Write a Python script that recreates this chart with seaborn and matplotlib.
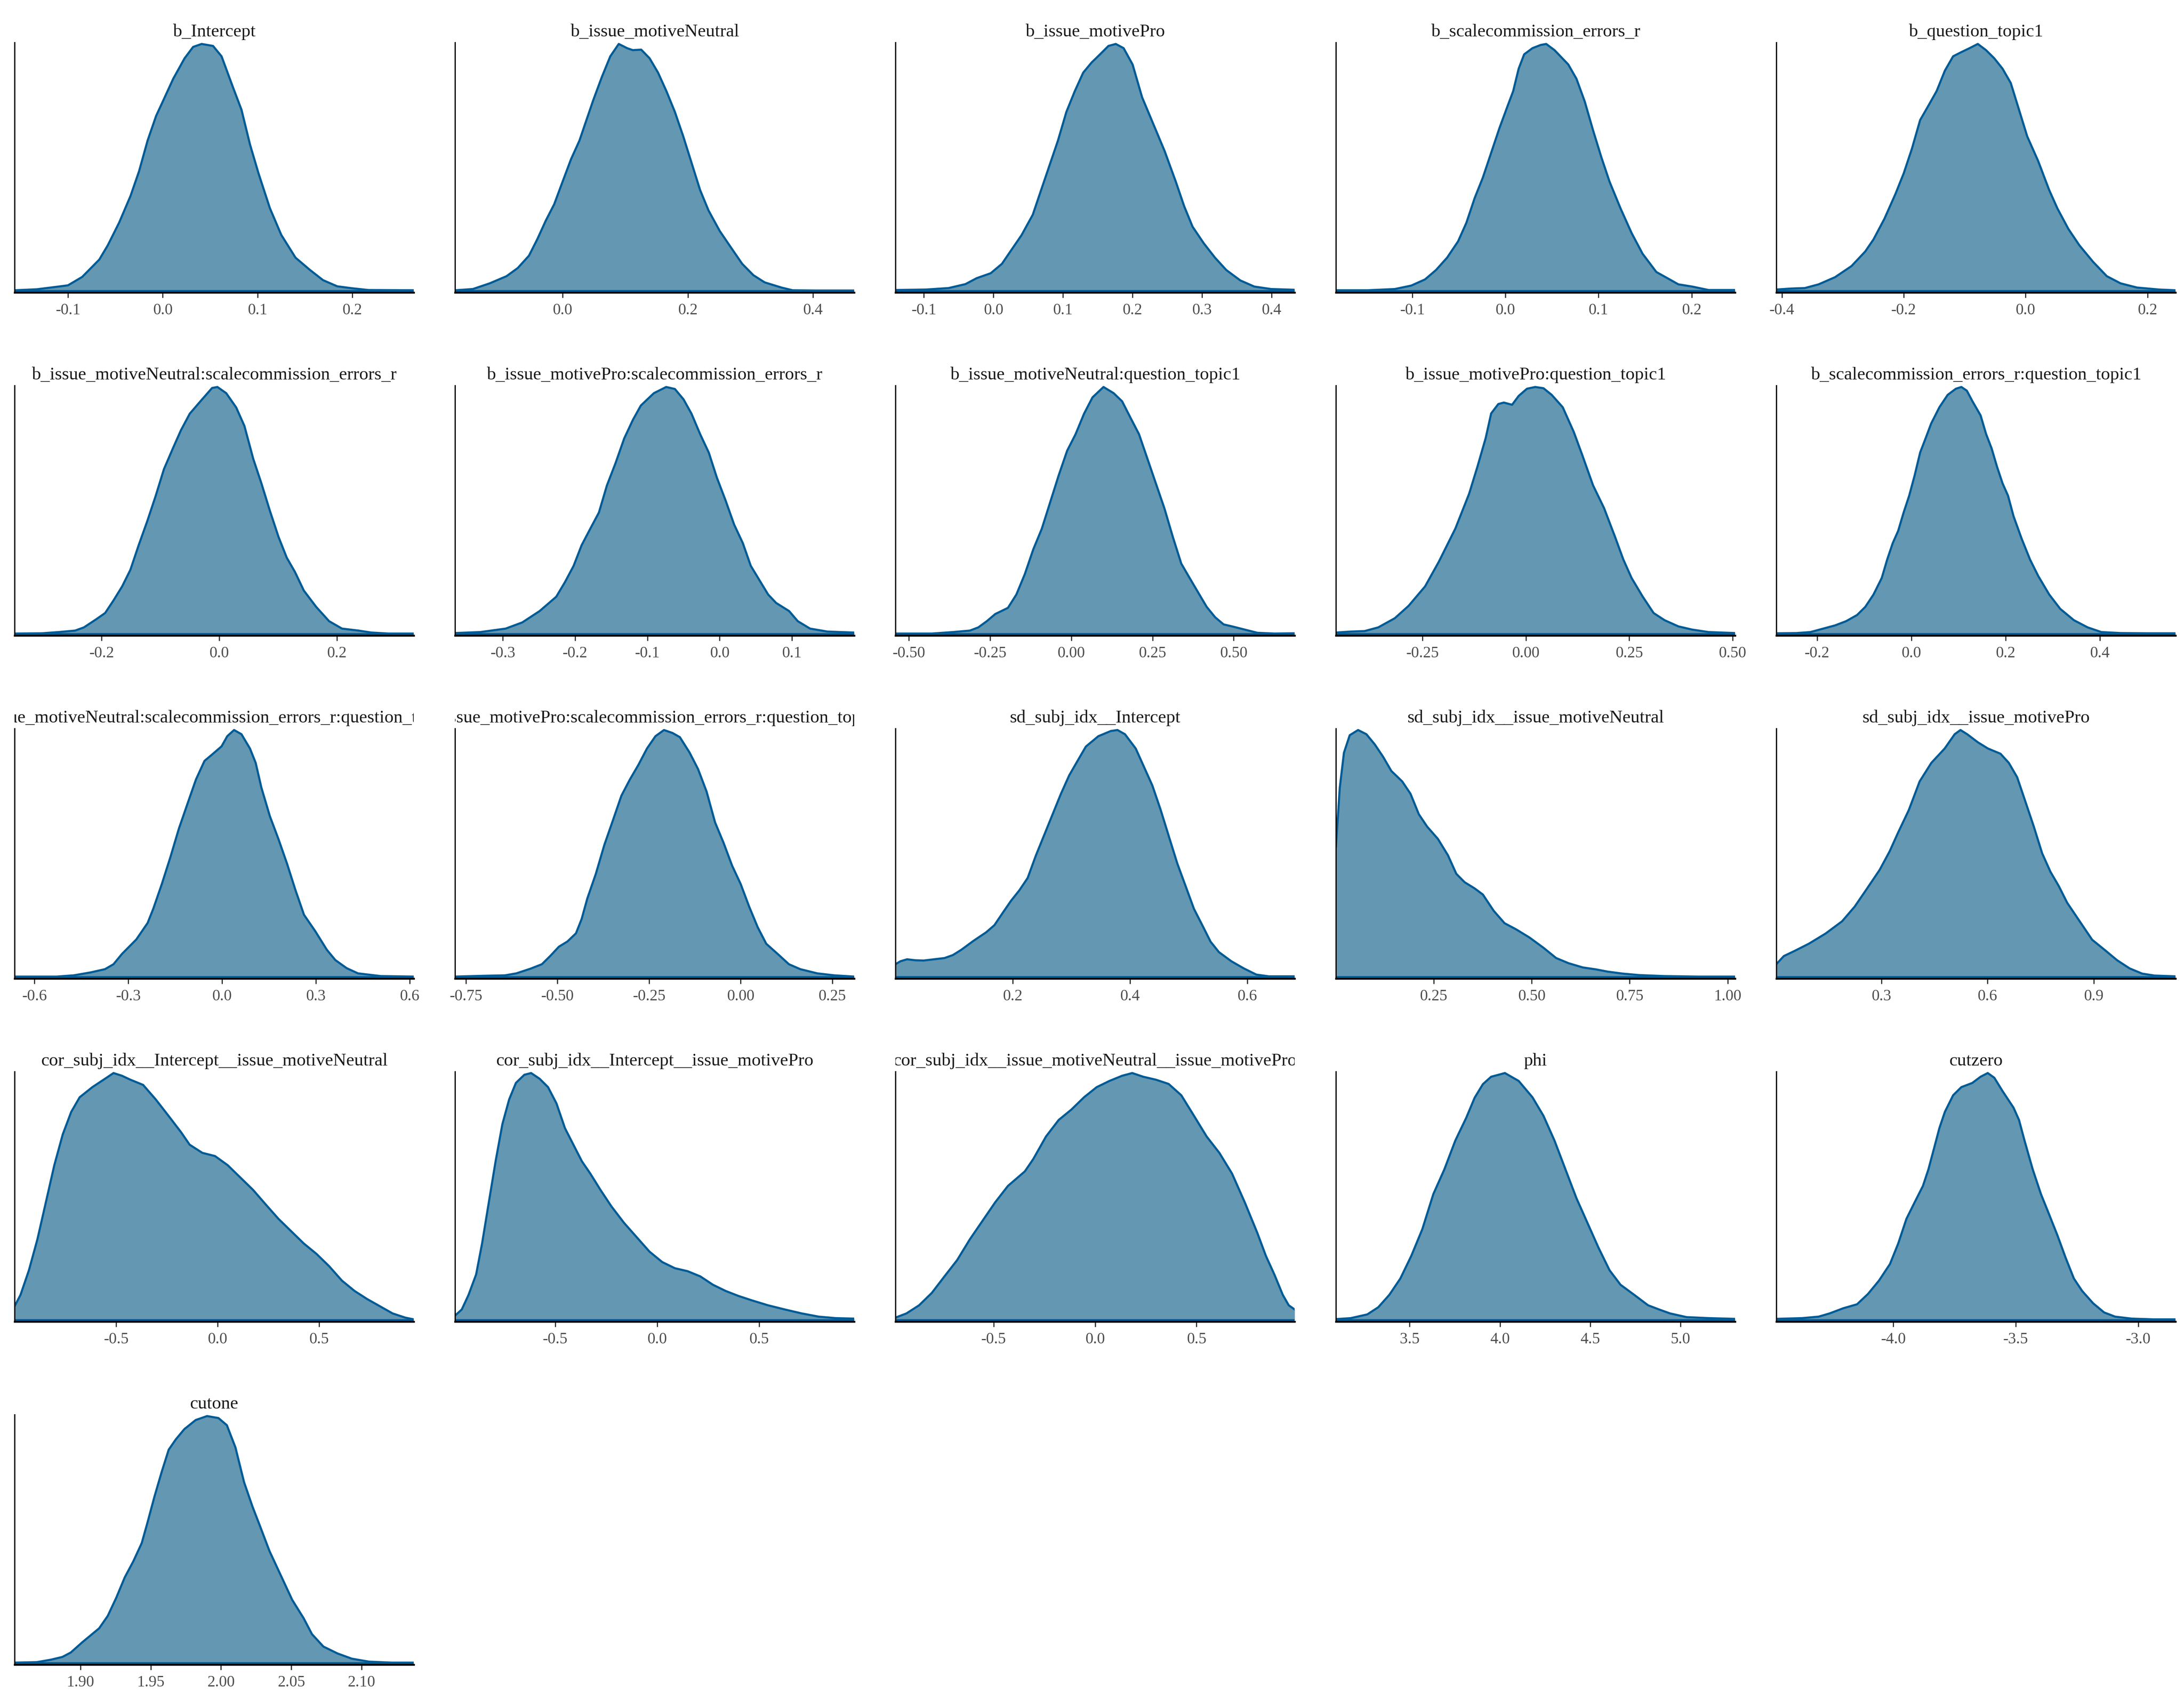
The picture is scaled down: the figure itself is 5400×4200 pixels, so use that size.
import numpy as np
import pandas as pd
import matplotlib
matplotlib.use("Agg")
import matplotlib.pyplot as plt
import seaborn as sns
from matplotlib.transforms import Bbox, TransformedBbox

# ---------------- data ----------------
# density curves: x positions and relative heights (peak = 1)
b_intercept_x = [-0.1563, -0.1329, -0.112, -0.1, -0.085, -0.067, -0.058, -0.046, -0.034, -0.025, -0.016, -0.007, 0.0, 0.011, 0.023, 0.032, 0.041, 0.053, 0.062, 0.074, 0.083, 0.092, 0.101, 0.113, 0.125, 0.140, 0.155, 0.169, 0.184, 0.2, 0.217, 0.2647]
b_intercept_y = [0.003, 0.007, 0.017, 0.023, 0.057, 0.127, 0.185, 0.277, 0.385, 0.485, 0.609, 0.709, 0.767, 0.859, 0.942, 0.988, 1.0, 0.992, 0.95, 0.825, 0.734, 0.593, 0.476, 0.335, 0.227, 0.135, 0.086, 0.044, 0.019, 0.011, 0.004, 0.003]

neutral_x = [-0.172, -0.1435, -0.1166, -0.0897, -0.0717, -0.0538, -0.0404, -0.0269, -0.0135, 0.0, 0.0135, 0.0269, 0.0359, 0.0493, 0.0628, 0.0762, 0.0897, 0.1031, 0.1121, 0.1256, 0.139, 0.1525, 0.1659, 0.1794, 0.1928, 0.2063, 0.2197, 0.2332, 0.2511, 0.2691, 0.287, 0.3049, 0.3229, 0.3498, 0.3677, 0.4036, 0.466]
neutral_y = [0.003, 0.008, 0.031, 0.06, 0.093, 0.143, 0.21, 0.285, 0.351, 0.443, 0.534, 0.609, 0.676, 0.775, 0.867, 0.95, 1.0, 0.983, 0.975, 0.977, 0.942, 0.884, 0.809, 0.725, 0.626, 0.517, 0.409, 0.326, 0.243, 0.176, 0.11, 0.064, 0.035, 0.014, 0.003, 0.002, 0.002]

pro_x = [-0.141, -0.0968, -0.0645, -0.0403, -0.0242, -0.004, 0.0121, 0.0242, 0.0403, 0.0565, 0.0685, 0.0806, 0.0927, 0.1048, 0.1169, 0.129, 0.1411, 0.1532, 0.1653, 0.1758, 0.1871, 0.2, 0.2137, 0.2298, 0.246, 0.2621, 0.2742, 0.2863, 0.3024, 0.3185, 0.3347, 0.3548, 0.375, 0.3992, 0.433]
pro_y = [0.004, 0.006, 0.012, 0.028, 0.052, 0.072, 0.11, 0.16, 0.226, 0.309, 0.409, 0.509, 0.609, 0.725, 0.809, 0.884, 0.925, 0.958, 0.992, 1.0, 0.983, 0.917, 0.784, 0.676, 0.567, 0.443, 0.343, 0.26, 0.193, 0.135, 0.085, 0.043, 0.018, 0.008, 0.005]

scale_x = [-0.1822, -0.1485, -0.1189, -0.1012, -0.0864, -0.0746, -0.0627, -0.0509, -0.042, -0.0331, -0.0243, -0.0154, -0.0065, 0.0024, 0.0083, 0.0142, 0.0201, 0.029, 0.0379, 0.0438, 0.0527, 0.0675, 0.0763, 0.0852, 0.0941, 0.103, 0.1118, 0.1237, 0.1355, 0.1473, 0.1621, 0.174, 0.1858, 0.2006, 0.2183, 0.2467]
scale_y = [0.003, 0.003, 0.008, 0.022, 0.047, 0.085, 0.135, 0.201, 0.276, 0.376, 0.459, 0.559, 0.659, 0.75, 0.809, 0.9, 0.958, 0.983, 0.996, 1.0, 0.975, 0.917, 0.859, 0.767, 0.651, 0.542, 0.443, 0.334, 0.235, 0.151, 0.077, 0.052, 0.027, 0.018, 0.004, 0.004]

topic_x = [-0.409, -0.3847, -0.3622, -0.3396, -0.3126, -0.2856, -0.2631, -0.2495, -0.2315, -0.2135, -0.2, -0.1865, -0.173, -0.1595, -0.146, -0.1324, -0.1189, -0.1054, -0.0919, -0.0784, -0.0649, -0.0514, -0.0378, -0.0243, -0.0108, 0.0027, 0.0207, 0.0387, 0.0523, 0.0703, 0.0883, 0.1108, 0.1333, 0.1559, 0.1829, 0.2189, 0.246]
topic_y = [0.006, 0.01, 0.012, 0.027, 0.056, 0.101, 0.16, 0.209, 0.293, 0.393, 0.476, 0.576, 0.692, 0.75, 0.809, 0.892, 0.95, 0.967, 0.983, 1.0, 0.975, 0.942, 0.9, 0.842, 0.734, 0.626, 0.526, 0.409, 0.334, 0.251, 0.185, 0.118, 0.06, 0.031, 0.014, 0.006, 0.003]

neutral_scale_x = [-0.348, -0.302, -0.273, -0.245, -0.23, -0.209, -0.194, -0.18, -0.165, -0.151, -0.137, -0.122, -0.108, -0.094, -0.079, -0.065, -0.05, -0.029, -0.012, -0.003, 0.012, 0.029, 0.043, 0.058, 0.072, 0.086, 0.101, 0.115, 0.129, 0.144, 0.165, 0.187, 0.209, 0.237, 0.259, 0.288, 0.331]
neutral_scale_y = [0.002, 0.003, 0.008, 0.014, 0.027, 0.06, 0.085, 0.135, 0.193, 0.26, 0.359, 0.459, 0.559, 0.667, 0.75, 0.825, 0.892, 0.95, 0.996, 1.0, 0.975, 0.917, 0.842, 0.709, 0.609, 0.501, 0.393, 0.309, 0.251, 0.176, 0.11, 0.052, 0.022, 0.014, 0.006, 0.002, 0.002]

pro_scale_x = [-0.366, -0.331, -0.296, -0.273, -0.249, -0.226, -0.214, -0.202, -0.191, -0.179, -0.167, -0.156, -0.144, -0.132, -0.12, -0.109, -0.091, -0.074, -0.062, -0.05, -0.039, -0.027, -0.015, -0.004, 0.008, 0.02, 0.032, 0.043, 0.055, 0.067, 0.078, 0.096, 0.108, 0.125, 0.149, 0.186]
pro_scale_y = [0.004, 0.008, 0.022, 0.047, 0.093, 0.151, 0.21, 0.276, 0.359, 0.426, 0.492, 0.601, 0.692, 0.792, 0.867, 0.925, 0.975, 1.0, 0.992, 0.95, 0.892, 0.809, 0.734, 0.634, 0.542, 0.443, 0.368, 0.276, 0.218, 0.16, 0.126, 0.093, 0.052, 0.022, 0.01, 0.006]

neutral_topic_x = [-0.5417, -0.4297, -0.3646, -0.3125, -0.2865, -0.2604, -0.2344, -0.1953, -0.1693, -0.1432, -0.1172, -0.0911, -0.0651, -0.0391, -0.013, 0.013, 0.0391, 0.0651, 0.099, 0.1302, 0.1563, 0.1823, 0.2083, 0.2344, 0.2604, 0.2865, 0.3125, 0.3385, 0.3646, 0.3906, 0.4167, 0.4427, 0.4688, 0.4948, 0.5339, 0.5729, 0.625, 0.6875]
neutral_topic_y = [0.002, 0.002, 0.008, 0.014, 0.027, 0.052, 0.081, 0.106, 0.16, 0.243, 0.343, 0.426, 0.534, 0.642, 0.742, 0.809, 0.892, 0.958, 1.0, 0.975, 0.942, 0.875, 0.809, 0.709, 0.609, 0.509, 0.393, 0.285, 0.226, 0.168, 0.11, 0.068, 0.039, 0.031, 0.018, 0.005, 0.002, 0.003]

pro_topic_x = [-0.4595, -0.4236, -0.3902, -0.357, -0.317, -0.2837, -0.2437, -0.2104, -0.1705, -0.1372, -0.1172, -0.0972, -0.0839, -0.0666, -0.0533, -0.0333, -0.0173, 0.0027, 0.0226, 0.0426, 0.0626, 0.0892, 0.1159, 0.1359, 0.1625, 0.1891, 0.2158, 0.2357, 0.2557, 0.2824, 0.309, 0.3356, 0.3689, 0.4022, 0.4422, 0.506]
pro_topic_y = [0.006, 0.01, 0.012, 0.027, 0.064, 0.114, 0.193, 0.293, 0.427, 0.568, 0.677, 0.793, 0.893, 0.931, 0.937, 0.928, 0.964, 0.993, 1.0, 0.995, 0.968, 0.918, 0.818, 0.727, 0.602, 0.51, 0.393, 0.302, 0.227, 0.152, 0.085, 0.056, 0.031, 0.018, 0.008, 0.004]

scale_topic_x = [-0.2866, -0.2434, -0.2143, -0.191, -0.1619, -0.1386, -0.1153, -0.0978, -0.0804, -0.0629, -0.0513, -0.0396, -0.028, -0.0163, -0.0047, 0.007, 0.0186, 0.0303, 0.0419, 0.0594, 0.0769, 0.0944, 0.106, 0.1176, 0.1293, 0.1468, 0.1584, 0.1701, 0.1817, 0.1934, 0.205, 0.2167, 0.2341, 0.2516, 0.2691, 0.2924, 0.3157, 0.3448, 0.3739, 0.403, 0.4438, 0.502, 0.5603]
scale_topic_y = [0.003, 0.004, 0.008, 0.02, 0.035, 0.052, 0.077, 0.11, 0.16, 0.227, 0.302, 0.368, 0.418, 0.493, 0.56, 0.643, 0.735, 0.793, 0.852, 0.918, 0.968, 0.993, 1.0, 0.985, 0.943, 0.885, 0.81, 0.752, 0.677, 0.61, 0.56, 0.477, 0.385, 0.302, 0.235, 0.16, 0.102, 0.056, 0.027, 0.008, 0.004, 0.003, 0.003]

neutral_scale_topic_x = [-0.6636, -0.5291, -0.4745, -0.42, -0.3745, -0.3473, -0.32, -0.2745, -0.2382, -0.22, -0.1927, -0.1655, -0.1382, -0.1109, -0.0836, -0.0564, -0.0291, -0.0018, 0.0164, 0.0382, 0.0618, 0.0891, 0.1073, 0.1255, 0.1527, 0.18, 0.2073, 0.2345, 0.2618, 0.2982, 0.3345, 0.3618, 0.3982, 0.4345, 0.5073, 0.6127]
neutral_scale_topic_y = [0.002, 0.002, 0.007, 0.019, 0.032, 0.052, 0.094, 0.152, 0.219, 0.277, 0.377, 0.485, 0.601, 0.701, 0.8, 0.875, 0.904, 0.934, 0.975, 1.0, 0.983, 0.925, 0.867, 0.767, 0.651, 0.559, 0.46, 0.352, 0.252, 0.185, 0.111, 0.069, 0.036, 0.015, 0.004, 0.002]

pro_scale_topic_x = [-0.7798, -0.7054, -0.6434, -0.6124, -0.5736, -0.5426, -0.5194, -0.4961, -0.4729, -0.4496, -0.4341, -0.4186, -0.3953, -0.3721, -0.3488, -0.3256, -0.3023, -0.2791, -0.2558, -0.2326, -0.2093, -0.186, -0.1659, -0.1395, -0.1163, -0.093, -0.0698, -0.0465, -0.0233, 0.0, 0.0233, 0.0465, 0.0698, 0.1008, 0.1318, 0.1628, 0.2093, 0.2558, 0.31]
pro_scale_topic_y = [0.002, 0.005, 0.007, 0.015, 0.034, 0.052, 0.086, 0.123, 0.144, 0.177, 0.235, 0.318, 0.418, 0.535, 0.634, 0.734, 0.8, 0.859, 0.925, 0.975, 1.0, 0.988, 0.971, 0.909, 0.842, 0.751, 0.626, 0.543, 0.451, 0.377, 0.285, 0.202, 0.135, 0.094, 0.052, 0.032, 0.015, 0.007, 0.002]

sd_intercept_x = [0.0, 0.0085, 0.0199, 0.034, 0.0482, 0.0624, 0.0837, 0.0979, 0.1121, 0.1333, 0.1546, 0.1688, 0.183, 0.1972, 0.2113, 0.2255, 0.2397, 0.2539, 0.2681, 0.2823, 0.2965, 0.3106, 0.3248, 0.3461, 0.3674, 0.3787, 0.3915, 0.4099, 0.4241, 0.4383, 0.4525, 0.4667, 0.4809, 0.495, 0.5092, 0.5234, 0.5376, 0.5518, 0.573, 0.5943, 0.6156, 0.6369, 0.6809]
sd_intercept_y = [0.052, 0.064, 0.072, 0.068, 0.067, 0.071, 0.077, 0.089, 0.11, 0.147, 0.181, 0.21, 0.26, 0.309, 0.351, 0.401, 0.493, 0.576, 0.659, 0.742, 0.817, 0.875, 0.933, 0.975, 0.996, 1.0, 0.983, 0.925, 0.85, 0.775, 0.676, 0.567, 0.459, 0.368, 0.276, 0.21, 0.143, 0.101, 0.064, 0.035, 0.01, 0.003, 0.003]

sd_neutral_x = [0.0, 0.01, 0.0206, 0.0354, 0.0567, 0.0779, 0.0992, 0.1204, 0.1417, 0.1693, 0.1905, 0.2118, 0.233, 0.2606, 0.2861, 0.3074, 0.3286, 0.3541, 0.3753, 0.403, 0.4306, 0.4603, 0.4943, 0.5304, 0.5623, 0.5942, 0.6303, 0.6643, 0.694, 0.7323, 0.7748, 0.8385, 0.9235, 1.019]
sd_neutral_y = [0.526, 0.767, 0.908, 0.979, 1.0, 0.983, 0.942, 0.892, 0.834, 0.792, 0.742, 0.659, 0.609, 0.559, 0.493, 0.418, 0.384, 0.359, 0.334, 0.268, 0.218, 0.193, 0.16, 0.118, 0.077, 0.056, 0.039, 0.031, 0.022, 0.014, 0.008, 0.004, 0.002, 0.002]

sd_pro_x = [0.0035, 0.0247, 0.0553, 0.0953, 0.1424, 0.1894, 0.2247, 0.26, 0.2953, 0.3235, 0.3471, 0.3776, 0.4082, 0.4412, 0.4788, 0.5071, 0.5235, 0.5424, 0.5729, 0.6012, 0.6365, 0.66, 0.6835, 0.7071, 0.7306, 0.7541, 0.7776, 0.8012, 0.8247, 0.86, 0.8953, 0.9306, 0.9659, 1.0012, 1.0365, 1.0718, 1.1306]
sd_pro_y = [0.052, 0.085, 0.106, 0.135, 0.176, 0.226, 0.285, 0.359, 0.434, 0.509, 0.584, 0.676, 0.792, 0.867, 0.925, 0.983, 1.0, 0.983, 0.95, 0.925, 0.904, 0.867, 0.809, 0.709, 0.609, 0.501, 0.426, 0.368, 0.301, 0.226, 0.151, 0.11, 0.068, 0.035, 0.014, 0.006, 0.003]

cor_int_neutral_x = [-1.0, -0.9708, -0.9292, -0.8875, -0.8458, -0.8042, -0.7625, -0.7208, -0.6792, -0.6167, -0.5542, -0.5125, -0.4708, -0.4292, -0.3667, -0.3042, -0.2417, -0.1792, -0.1375, -0.075, -0.0125, 0.05, 0.1125, 0.175, 0.2375, 0.3, 0.3625, 0.425, 0.4875, 0.55, 0.6125, 0.675, 0.7375, 0.8, 0.8625, 0.925, 0.9667]
cor_int_neutral_y = [0.056, 0.102, 0.202, 0.327, 0.477, 0.627, 0.752, 0.843, 0.902, 0.943, 0.977, 1.0, 0.989, 0.973, 0.952, 0.893, 0.827, 0.76, 0.71, 0.677, 0.664, 0.627, 0.577, 0.527, 0.468, 0.41, 0.36, 0.31, 0.268, 0.218, 0.16, 0.118, 0.085, 0.056, 0.027, 0.01, 0.003]

cor_int_pro_x = [-0.9917, -0.9585, -0.9253, -0.888, -0.8589, -0.8257, -0.7925, -0.7593, -0.7261, -0.6929, -0.6515, -0.6183, -0.5768, -0.5353, -0.4938, -0.4523, -0.4108, -0.3693, -0.3278, -0.278, -0.2241, -0.1618, -0.0996, -0.0373, 0.0249, 0.0871, 0.1494, 0.2116, 0.2739, 0.3361, 0.3983, 0.4606, 0.5436, 0.6266, 0.7095, 0.7925, 0.8755, 0.9668]
cor_int_pro_y = [0.018, 0.043, 0.102, 0.185, 0.31, 0.477, 0.643, 0.793, 0.893, 0.96, 0.993, 1.0, 0.977, 0.943, 0.877, 0.777, 0.71, 0.643, 0.593, 0.527, 0.46, 0.393, 0.335, 0.277, 0.235, 0.21, 0.198, 0.177, 0.143, 0.118, 0.098, 0.081, 0.06, 0.043, 0.027, 0.014, 0.008, 0.006]

cor_neutral_pro_x = [-0.9833, -0.9292, -0.8667, -0.8042, -0.7417, -0.6792, -0.6167, -0.5542, -0.4917, -0.4292, -0.3458, -0.3042, -0.2417, -0.1792, -0.1167, -0.0542, 0.0083, 0.0708, 0.1333, 0.1833, 0.2375, 0.3, 0.3625, 0.425, 0.4875, 0.55, 0.6125, 0.675, 0.7375, 0.8, 0.8417, 0.8833, 0.925, 0.9542, 0.9833]
cor_neutral_pro_y = [0.01, 0.027, 0.06, 0.11, 0.177, 0.243, 0.327, 0.402, 0.477, 0.543, 0.602, 0.652, 0.743, 0.81, 0.852, 0.902, 0.943, 0.968, 0.989, 1.0, 0.985, 0.973, 0.956, 0.91, 0.827, 0.743, 0.677, 0.593, 0.477, 0.352, 0.26, 0.185, 0.102, 0.06, 0.043]

phi_x = [3.0915, 3.1738, 3.2652, 3.3262, 3.3872, 3.4482, 3.5091, 3.5701, 3.6311, 3.6921, 3.753, 3.814, 3.8598, 3.9055, 3.9512, 4.0274, 4.1037, 4.1799, 4.2409, 4.3018, 4.3628, 4.4238, 4.4848, 4.5457, 4.6067, 4.6677, 4.7439, 4.8201, 4.8811, 4.9421, 5.0335, 5.1555, 5.3018]
phi_y = [0.004, 0.008, 0.023, 0.052, 0.102, 0.168, 0.26, 0.368, 0.51, 0.61, 0.727, 0.82, 0.9, 0.955, 0.985, 1.0, 0.968, 0.902, 0.827, 0.727, 0.61, 0.493, 0.393, 0.293, 0.202, 0.143, 0.102, 0.06, 0.043, 0.027, 0.012, 0.008, 0.005]

cutzero_x = [-4.4776, -4.3722, -4.3049, -4.2601, -4.204, -4.148, -4.1031, -4.0583, -4.0135, -3.9798, -3.9462, -3.9126, -3.8789, -3.8565, -3.8341, -3.8117, -3.7892, -3.7556, -3.722, -3.6771, -3.6435, -3.6143, -3.5874, -3.5538, -3.509, -3.4865, -3.4641, -3.4305, -3.3969, -3.3632, -3.3296, -3.296, -3.2623, -3.2287, -3.1839, -3.139, -3.0942, -3.0269, -2.9372, -2.8475]
cutzero_y = [0.005, 0.008, 0.014, 0.027, 0.048, 0.064, 0.106, 0.16, 0.227, 0.31, 0.41, 0.477, 0.543, 0.61, 0.693, 0.777, 0.843, 0.91, 0.943, 0.96, 0.985, 1.0, 0.981, 0.927, 0.86, 0.81, 0.727, 0.61, 0.51, 0.427, 0.343, 0.252, 0.168, 0.118, 0.068, 0.031, 0.014, 0.006, 0.003, 0.003]

cutone_x = [1.8531, 1.8689, 1.879, 1.8871, 1.8931, 1.9012, 1.9133, 1.9194, 1.9255, 1.9315, 1.9376, 1.9436, 1.9477, 1.9527, 1.9578, 1.9628, 1.9679, 1.9739, 1.982, 1.9901, 1.9982, 2.0042, 2.0103, 2.0164, 2.0224, 2.0285, 2.0345, 2.0426, 2.0507, 2.0588, 2.0648, 2.0729, 2.083, 2.0931, 2.1053, 2.1214, 2.1372]
cutone_y = [0.002, 0.004, 0.014, 0.025, 0.043, 0.084, 0.141, 0.191, 0.265, 0.347, 0.412, 0.486, 0.569, 0.675, 0.774, 0.864, 0.906, 0.947, 0.984, 1.0, 0.992, 0.963, 0.873, 0.733, 0.634, 0.544, 0.454, 0.355, 0.256, 0.182, 0.117, 0.067, 0.039, 0.018, 0.006, 0.002, 0.002]

# panel titles (facet labels)
titles = [
    "b_Intercept", "b_issue_motiveNeutral", "b_issue_motivePro",
    "b_scalecommission_errors_r", "b_question_topic1",
    "b_issue_motiveNeutral:scalecommission_errors_r",
    "b_issue_motivePro:scalecommission_errors_r",
    "b_issue_motiveNeutral:question_topic1",
    "b_issue_motivePro:question_topic1",
    "b_scalecommission_errors_r:question_topic1",
    "b_issue_motiveNeutral:scalecommission_errors_r:question_topic1",
    "b_issue_motivePro:scalecommission_errors_r:question_topic1",
    "sd_subj_idx__Intercept", "sd_subj_idx__issue_motiveNeutral",
    "sd_subj_idx__issue_motivePro",
    "cor_subj_idx__Intercept__issue_motiveNeutral",
    "cor_subj_idx__Intercept__issue_motivePro",
    "cor_subj_idx__issue_motiveNeutral__issue_motivePro",
    "phi", "cutzero", "cutone",
]

# x tick labels per panel
tick_labels = [
    ["-0.1", "0.0", "0.1", "0.2"],
    ["0.0", "0.2", "0.4"],
    ["-0.1", "0.0", "0.1", "0.2", "0.3", "0.4"],
    ["-0.1", "0.0", "0.1", "0.2"],
    ["-0.4", "-0.2", "0.0", "0.2"],
    ["-0.2", "0.0", "0.2"],
    ["-0.3", "-0.2", "-0.1", "0.0", "0.1"],
    ["-0.50", "-0.25", "0.00", "0.25", "0.50"],
    ["-0.25", "0.00", "0.25", "0.50"],
    ["-0.2", "0.0", "0.2", "0.4"],
    ["-0.6", "-0.3", "0.0", "0.3", "0.6"],
    ["-0.75", "-0.50", "-0.25", "0.00", "0.25"],
    ["0.2", "0.4", "0.6"],
    ["0.25", "0.50", "0.75", "1.00"],
    ["0.3", "0.6", "0.9"],
    ["-0.5", "0.0", "0.5"],
    ["-0.5", "0.0", "0.5"],
    ["-0.5", "0.0", "0.5"],
    ["3.5", "4.0", "4.5", "5.0"],
    ["-4.0", "-3.5", "-3.0"],
    ["1.90", "1.95", "2.00", "2.05", "2.10"],
]

curves = [
    (b_intercept_x, b_intercept_y), (neutral_x, neutral_y), (pro_x, pro_y),
    (scale_x, scale_y), (topic_x, topic_y),
    (neutral_scale_x, neutral_scale_y), (pro_scale_x, pro_scale_y),
    (neutral_topic_x, neutral_topic_y), (pro_topic_x, pro_topic_y),
    (scale_topic_x, scale_topic_y),
    (neutral_scale_topic_x, neutral_scale_topic_y),
    (pro_scale_topic_x, pro_scale_topic_y),
    (sd_intercept_x, sd_intercept_y), (sd_neutral_x, sd_neutral_y),
    (sd_pro_x, sd_pro_y),
    (cor_int_neutral_x, cor_int_neutral_y), (cor_int_pro_x, cor_int_pro_y),
    (cor_neutral_pro_x, cor_neutral_pro_y),
    (phi_x, phi_y), (cutzero_x, cutzero_y), (cutone_x, cutone_y),
]

# ---------------- style ----------------
FILL = "#6497b1"
LINE = "#005b96"

sns.set_theme(style="white")
plt.rcParams["font.family"] = ["Liberation Serif", "DejaVu Serif"]

fig, axes = plt.subplots(5, 5, figsize=(18, 14), dpi=300)
fig.subplots_adjust(left=0.00667, right=0.99611, top=0.975, bottom=0.02024,
                    wspace=0.1033, hspace=0.372)

for i, ax in enumerate(axes.flat):
    if i >= len(titles):
        ax.remove()
        continue
    xs, ys = curves[i]
    n = min(len(xs), len(ys))
    df = pd.DataFrame({"x": xs[:n], "y": ys[:n]})
    ax.fill_between(df["x"], 0, df["y"], color=FILL, linewidth=0, zorder=1)
    sns.lineplot(data=df, x="x", y="y", ax=ax, color=LINE, linewidth=1.25,
                 estimator=None, sort=False, zorder=2,
                 solid_joinstyle="round", solid_capstyle="round")
    ax.plot([df["x"].iloc[0], df["x"].iloc[-1]], [0, 0], color=LINE,
            linewidth=1.25, zorder=2, solid_capstyle="butt")
    ax.set_xlim(df["x"].iloc[0], df["x"].iloc[-1])
    ax.set_ylim(-0.006, 1.006)
    labs = tick_labels[i]
    ax.set_xticks([float(s) for s in labs])
    ax.set_xticklabels(labs)
    ax.set_yticks([])
    ax.set_xlabel("")
    ax.set_ylabel("")
    ax.tick_params(axis="x", bottom=True, length=3.2, width=0.7, color="#333333",
                   labelsize=9.4, labelcolor="#4d4d4d", pad=3)
    for s in ["top", "right"]:
        ax.spines[s].set_visible(False)
    ax.spines["left"].set_color("black")
    ax.spines["left"].set_linewidth(0.75)
    ax.spines["bottom"].set_color("black")
    ax.spines["bottom"].set_linewidth(1.1)
    ax.spines["bottom"].set_zorder(3)
    t = ax.set_title(titles[i], fontsize=10.8, color="#1a1a1a", pad=3.5)
    t.set_clip_on(True)
    t.set_clip_box(TransformedBbox(Bbox([[0, 0], [1, 1.4]]), ax.transAxes))

fig.savefig("out.png", dpi=300, facecolor="white")
